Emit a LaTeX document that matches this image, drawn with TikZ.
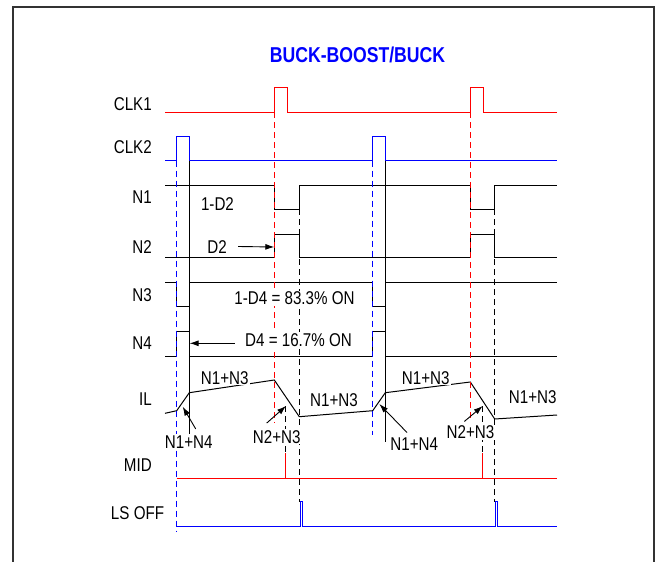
\documentclass[tikz,border=0pt]{standalone}
\usepackage{fontspec}
\setmainfont{Liberation Sans}[FakeStretch=0.82]
\usetikzlibrary{positioning,arrows.meta}
\tikzset{
  frame/.style={draw=black!80, line width=1.4pt},
  heading/.style={inner sep=0pt, text=blue, font=\fontsize{21.5}{24}\selectfont\bfseries},
  lbl/.style={anchor=east, inner sep=0pt, text height=13.2pt, text depth=0pt, font=\fontsize{18.5}{21}\selectfont},
  txt/.style={inner sep=1pt, fill=white, text height=13.2pt, text depth=0pt, font=\fontsize{18.5}{21}\selectfont},
  redwave/.style={draw=red, line width=1pt},
  bluewave/.style={draw=blue, line width=1pt},
  blackwave/.style={draw=black, line width=1pt},
  reddash/.style={draw=red, line width=1pt, dash pattern=on 6pt off 4pt},
  bluedash/.style={draw=blue, line width=1pt, dash pattern=on 6pt off 4pt},
  blackdash/.style={draw=black, line width=1pt, dash pattern=on 6pt off 4pt},
  fwd/.style={-{Latex[length=9pt,width=6pt]}, line width=0.9pt},
}
\begin{document}
\begin{tikzpicture}[x=1pt,y=-1pt]
\useasboundingbox (0,0) rectangle (657,562);
\fill[white] (0,0) rectangle (657,562);
\draw[frame] (13,7) rectangle (654,600);

%Waveforms
\draw[redwave] (165,112) -- (274.3,112) |- (287.3,87.3) |- (470.3,112) |- (483,87.3) |- (557,112);
\draw[bluewave] (165,160.7) -- (176.7,160.7) |- (189.3,136) |- (372.7,160.7) |- (385.3,136) |- (557,160.7);
\draw[blackwave] (165,185) -- (274.3,185) |- (299.3,209.3) |- (470.3,185) |- (494.7,209.3) |- (557,185);
\draw[blackwave] (165,257.7) -- (274.3,257.7) |- (299.3,234) |- (470.3,257.7) |- (494.7,234) |- (557,257.7);
\draw[blackwave] (165,282.7) -- (176.7,282.7) |- (189.3,306.7) |- (372.7,282.7) |- (385.3,306.7) |- (557,282.7);
\draw[blackwave] (165,356) -- (176.7,356) |- (189.3,331.7) |- (372.7,356) |- (385.3,331.7) |- (557,356);
\draw[blackwave] (165,413.3) -- (176.7,410.7) -- (189.3,392.7) -- (274.3,380) -- (299.3,416.7)
  -- (372.7,410.7) -- (385.3,392.7) -- (470.3,382) -- (494.7,419) -- (557,415);
\draw[redwave] (176.7,478.3) -- (557,478.3);
\draw[redwave] (285,453) -- (285,478.3);
\draw[redwave] (482.7,453) -- (482.7,478.3);
\draw[bluewave] (176.7,526.7) -- (300,526.7) |- (302.3,501.7) |- (495,526.7) |- (497.3,501.7) |- (557,526.7);

%Edges
\draw[blackwave] (189.3,160.7) -- (189.3,441.7);
\draw[blackwave] (385.3,160.7) -- (385.3,441.7);
\draw[bluedash] (176.7,160.7) -- (176.7,531.7);
\draw[bluedash] (372.7,160.7) -- (372.7,435);
\draw[reddash] (274.3,112) -- (274.3,423);
\draw[reddash] (470.3,112) -- (470.3,421.7);
\draw[blackdash] (299.3,209.3) -- (299.3,501.7);
\draw[blackdash] (494.7,209.3) -- (494.7,501.7);
\draw[blackdash] (285,406) -- (285,453);
\draw[blackdash] (482.7,406) -- (482.7,453);

%Nodes
\node[heading] (title) at (357.5,54.7) {BUCK-BOOST/BUCK};
\node[lbl] (clkone) at (152,104) {CLK1};
\node[lbl] (clktwo) at (152,147) {CLK2};
\node[lbl] (none) at (152,197) {N1};
\node[lbl] (ntwo) at (152,247) {N2};
\node[lbl] (nthree) at (152,295) {N3};
\node[lbl] (nfour) at (152,343.3) {N4};
\node[lbl] (il) at (152,399.2) {IL};
\node[lbl] (mid) at (152,464.7) {MID};
\node[lbl] (lsoff) at (164.3,513.3) {LS OFF};

\node[txt] (donetwo) at (217.5,204) {1-D2};
\node[txt] (dtwo) at (217,246.5) {D2};
\node[txt] (donefour) at (294.5,298.3) {1-D4 = 83.3\% ON};
\node[txt] (dfour) at (298.5,340) {D4 = 16.7\% ON};
\node[txt] (onthreea) at (224.7,377.5) {N1+N3};
\node[txt] (onthreeb) at (334,400) {N1+N3};
\node[txt] (onthreec) at (425.8,377.8) {N1+N3};
\node[txt] (onthreed) at (532.8,396.7) {N1+N3};
\node[txt] (onfoura) at (188.7,441.7) {N1+N4};
\node[txt] (onfourb) at (414.3,443.7) {N1+N4};
\node[txt] (twothreea) at (276.7,436.7) {N2+N3};
\node[txt] (twothreeb) at (470.5,432.3) {N2+N3};

%Tips
\coordinate (ntworise) at (274.3,247);
\coordinate (nfourfall) at (189.6,343.3);
\coordinate (risea) at (182.7,406.7);
\coordinate (riseb) at (379.3,404);
\coordinate (falla) at (286,406);
\coordinate (fallb) at (482.7,406);

%Arrows
\draw[fwd] ([xshift=10.3pt]dtwo.east) -- (ntworise);
\draw[fwd] ([xshift=-9.2pt,yshift=-3.3pt]dfour.west) -- (nfourfall);
\draw[fwd] ([xshift=7pt,yshift=5pt]onfoura.north) -- (risea);
\draw[fwd] ([xshift=-7.3pt,yshift=3.4pt]onfourb.north) -- (riseb);
\draw[fwd] ([xshift=-10pt,yshift=5.8pt]twothreea.north) -- (falla);
\draw[fwd] ([xshift=-6.2pt,yshift=3pt]twothreeb.north) -- (fallb);
\end{tikzpicture}
\end{document}
